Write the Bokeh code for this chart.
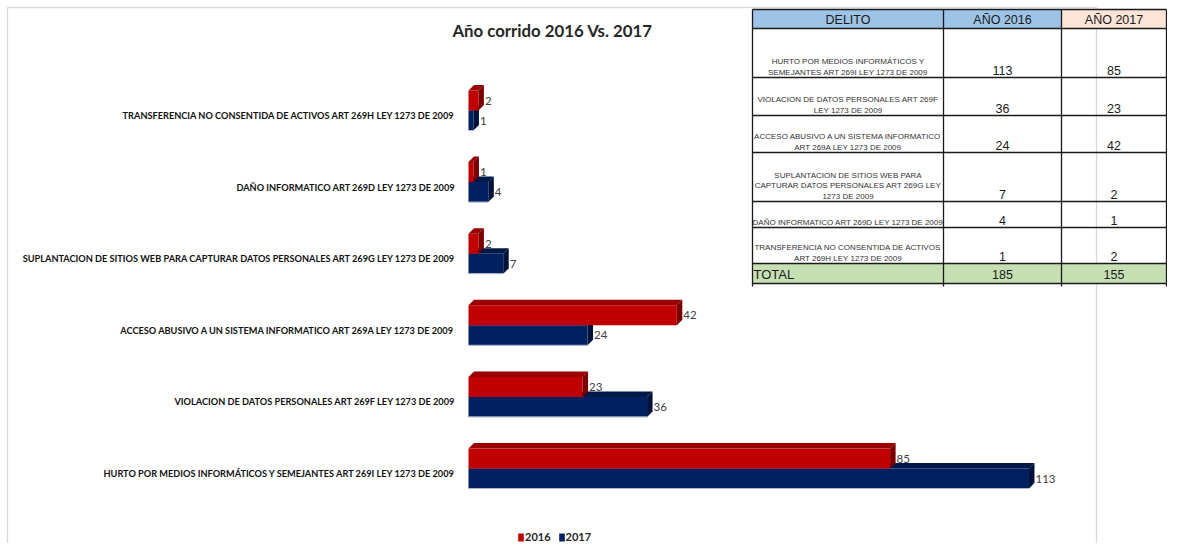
from bokeh.plotting import figure
from bokeh.models import Range1d, Legend, LegendItem
from bokeh.core.properties import value
from bokeh.embed import file_html
from bokeh.resources import INLINE

# ---------------- data ----------------
categories = [
    "HURTO POR MEDIOS INFORMÁTICOS Y SEMEJANTES ART 269I LEY 1273 DE 2009",
    "VIOLACION DE DATOS PERSONALES ART 269F LEY 1273 DE 2009",
    "ACCESO ABUSIVO A UN SISTEMA INFORMATICO ART 269A LEY 1273 DE 2009",
    "SUPLANTACION DE SITIOS WEB PARA CAPTURAR DATOS PERSONALES ART 269G LEY 1273 DE 2009",
    "DAÑO INFORMATICO ART 269D LEY 1273 DE 2009",
    "TRANSFERENCIA NO CONSENTIDA DE ACTIVOS ART 269H LEY 1273 DE 2009",
]
vals_2016 = [85, 23, 42, 2, 1, 2]
vals_2017 = [113, 36, 24, 7, 4, 1]
series_names = ["2016", "2017"]
title_text = "Año corrido 2016 Vs. 2017"

table_header = ["DELITO", "AÑO 2016", "AÑO 2017"]
table_delito = [
    ["HURTO POR MEDIOS INFORMÁTICOS Y", "SEMEJANTES ART 269I LEY 1273 DE 2009"],
    ["VIOLACION DE DATOS PERSONALES ART 269F", "LEY 1273 DE 2009"],
    ["ACCESO ABUSIVO A UN SISTEMA INFORMATICO", "ART 269A LEY 1273 DE 2009"],
    ["SUPLANTACION DE SITIOS WEB PARA", "CAPTURAR DATOS PERSONALES ART 269G LEY", "1273 DE 2009"],
    ["DAÑO INFORMATICO ART 269D LEY 1273 DE 2009"],
    ["TRANSFERENCIA NO CONSENTIDA DE ACTIVOS", "ART 269H LEY 1273 DE 2009"],
]
table_2016 = [113, 36, 24, 7, 4, 1]
table_2017 = [85, 23, 42, 2, 1, 2]
total_label = "TOTAL"
total_2016 = 185
total_2017 = 155

# ---------------- layout constants ----------------
W, H = 1167, 543
X0_PX, XS = 468.0, 4.96      # pixel of value 0, pixels per unit
Y0_PX, YS = 468.0, 71.6      # pixel (from top) of first category, pixels per category
BAR_PX, DEPTH_PX = 20.0, 5.5

RED, RED_TOP, RED_SIDE = "#C00000", "#9A0000", "#7A0000"
NAVY, NAVY_TOP, NAVY_SIDE = "#002060", "#001848", "#00123A"
CAL = value("Lato")
SANS = value("Liberation Sans")

p = figure(width=W, height=H,
           x_range=Range1d(-X0_PX / XS, (W - X0_PX) / XS),
           y_range=Range1d(-(H - Y0_PX) / YS, Y0_PX / YS),
           x_axis_location=None, y_axis_location=None,
           output_backend="svg", toolbar_location=None,
           min_border=0, outline_line_color=None,
           background_fill_color="white", border_fill_color="white")
p.grid.visible = False
p.extra_x_ranges = {"px": Range1d(0, W)}
p.extra_y_ranges = {"py": Range1d(H, 0)}

# frame of the chart area
FL, FT, FR = 7, 7, 1096
p.segment(x0=[FL, FL, FR], y0=[FT, FT, FT], x1=[FR, FL, FR], y1=[FT, H, H],
          x_range_name="px", y_range_name="py", line_color="#D9D9D9", line_width=1.3)

# ---------------- 3D bars ----------------
h = BAR_PX / YS
dx = DEPTH_PX / XS
dy = DEPTH_PX / YS
idx = list(range(len(categories)))

front = {}
for name, vals, off, cf, ct, cs in [
    ("2017", vals_2017, -h, NAVY, NAVY_TOP, NAVY_SIDE),
    ("2016", vals_2016, 0.0, RED, RED_TOP, RED_SIDE),
]:
    y0 = [i + off for i in idx]
    y1 = [i + off + h for i in idx]
    p.patches(xs=[[0, v, v + dx, dx] for v in vals],
              ys=[[b, b, b + dy, b + dy] for b in y1],
              fill_color=ct, line_color=None)
    p.patches(xs=[[v, v + dx, v + dx, v] for v in vals],
              ys=[[a, a + dy, b + dy, b] for a, b in zip(y0, y1)],
              fill_color=cs, line_color=None)
    front[name] = p.quad(left=0, right=vals, bottom=y0, top=y1, fill_color=cf, line_color=None)
    if name == "2017":
        p.segment(x0=[0] * len(vals), x1=vals, y0=y0, y1=y0, line_color="#AEB8CC", line_width=1.2)
    p.text(x=[v + dx for v in vals], y=[(a + b) / 2 for a, b in zip(y0, y1)],
           text=[str(v) for v in vals], x_offset=1,
           text_align="left", text_baseline="middle",
           text_font=CAL, text_font_size="11.5px", text_color="#404040")

# category labels
p.text(x=[455] * len(categories), y=idx, text=categories, x_range_name="px",
       text_align="right", text_baseline="middle", y_offset=5,
       text_font=CAL, text_font_style="bold", text_font_size="9.2px", text_color="#111111")

# title
p.text(x=[552], y=[30], text=[title_text], x_range_name="px", y_range_name="py",
       text_align="center", text_baseline="middle",
       text_font=CAL, text_font_style="bold", text_font_size="16.8px", text_color="#262626")

# legend
legend = Legend(items=[LegendItem(label=series_names[0], renderers=[front["2016"]]),
                       LegendItem(label=series_names[1], renderers=[front["2017"]])],
                location=(517, 0), orientation="horizontal",
                glyph_width=7, glyph_height=10, label_standoff=1, spacing=7,
                padding=0, margin=0, border_line_color=None, background_fill_alpha=0,
                label_text_font="Lato", label_text_font_style="bold",
                label_text_font_size="11px", label_text_color="#262626",
                label_height=10, label_width=20)
p.add_layout(legend)

# ---------------- table ----------------
cx = [752, 943, 1061, 1166]
ry = [9, 28, 77, 115, 152, 201, 227, 263, 283]
n = len(table_delito)

p.quad(left=[cx[0], cx[1], cx[2]], right=[cx[1], cx[2], cx[3]],
       top=[ry[0]] * 3, bottom=[ry[1]] * 3,
       fill_color=["#9DC3E6", "#9DC3E6", "#FCE4D6"], line_color=None,
       x_range_name="px", y_range_name="py")
p.quad(left=[cx[0]], right=[cx[3]], top=[ry[-2]], bottom=[ry[-1]],
       fill_color="#C6E0B4", line_color=None, x_range_name="px", y_range_name="py")

# grid lines
p.segment(x0=[cx[0]] * len(ry), x1=[cx[3]] * len(ry), y0=ry, y1=ry,
          line_color="#1a1a1a", line_width=1.3, x_range_name="px", y_range_name="py")
p.segment(x0=cx, x1=cx, y0=[ry[0]] * 4, y1=[ry[-1] + 3] * 4, line_color="#1a1a1a",
          line_width=1.3, x_range_name="px", y_range_name="py")

ccx = [(cx[k] + cx[k + 1]) / 2 for k in range(3)]
p.text(x=ccx, y=[(ry[0] + ry[1]) / 2 + 1] * 3, text=table_header,
       x_range_name="px", y_range_name="py", text_align="center", text_baseline="middle",
       text_font=SANS, text_font_size="12.5px", text_color="#1a1a1a")

lx, ly, lt = [], [], []
for r, lines in enumerate(table_delito):
    bottom = ry[r + 2]
    for k, line in enumerate(reversed(lines)):
        lx.append(ccx[0])
        ly.append(bottom - 5.5 - 10.5 * k)
        lt.append(line)
p.text(x=lx, y=ly, text=lt, x_range_name="px", y_range_name="py",
       text_align="center", text_baseline="middle",
       text_font=SANS, text_font_size="8px", text_color="#333333")

num_y = [ry[r + 2] - 7.5 for r in range(n)]
p.text(x=[ccx[1]] * n, y=num_y, text=[str(v) for v in table_2016],
       x_range_name="px", y_range_name="py", text_align="center", text_baseline="middle",
       text_font=SANS, text_font_size="12.5px", text_color="#1a1a1a")
p.text(x=[ccx[2]] * n, y=num_y, text=[str(v) for v in table_2017],
       x_range_name="px", y_range_name="py", text_align="center", text_baseline="middle",
       text_font=SANS, text_font_size="12.5px", text_color="#1a1a1a")

ty = (ry[-2] + ry[-1]) / 2 + 1
p.text(x=[cx[0] + 1], y=[ty], text=[total_label], x_range_name="px", y_range_name="py",
       text_align="left", text_baseline="middle",
       text_font=SANS, text_font_size="13px", text_color="#1a1a1a")
p.text(x=[ccx[1], ccx[2]], y=[ty, ty], text=[str(total_2016), str(total_2017)],
       x_range_name="px", y_range_name="py", text_align="center", text_baseline="middle",
       text_font=SANS, text_font_size="12.5px", text_color="#1a1a1a")

open("out.html", "w").write(file_html(p, INLINE))
